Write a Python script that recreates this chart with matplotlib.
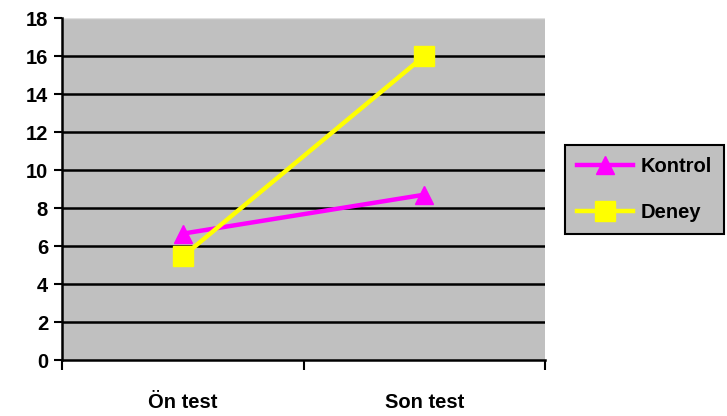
import matplotlib
matplotlib.use("Agg")
import matplotlib.pyplot as plt

categories = ["Ön test", "Son test"]
kontrol = [6.65, 8.7]
deney = [5.45, 16.0]
yticks = [0, 2, 4, 6, 8, 10, 12, 14, 16, 18]

plt.rcParams['font.family'] = ['Liberation Sans', 'DejaVu Sans']
plt.rcParams['font.weight'] = 'bold'

W, H = 727, 416
fig = plt.figure(figsize=(W/100, H/100), dpi=100)
ax = fig.add_axes([62/W, 1-360/H, (545-62)/W, (360-18)/H])
ax.set_facecolor('#C0C0C0')

x = list(range(len(categories)))
ax.plot(x, kontrol, color='#FF00FF', lw=3.2, marker='^', ms=13, label='Kontrol', zorder=3)
ax.plot(x, deney, color='#FFFF00', lw=3.2, marker='s', ms=14, label='Deney', zorder=4)

ax.set_xlim(-0.5, 1.5)
ax.set_ylim(0, 18)
ax.set_yticks(yticks)
ax.set_yticklabels([str(v) for v in yticks], fontsize=14.5, fontweight='bold')
for v in yticks[1:-1]:
    ax.axhline(v, color='black', lw=1.8, zorder=1)
ax.axhline(18, color='#E0E0E0', lw=1, zorder=1)

ax.set_xticks([-0.5, 0.5, 1.5])
ax.set_xticklabels([])
ax.set_xticks(x, minor=True)
ax.set_xticklabels(categories, minor=True, fontsize=14.5, fontweight='bold')
ax.tick_params(axis='x', which='minor', length=0, pad=24)
ax.tick_params(axis='x', which='major', length=7, width=1.5, direction='out')
ax.tick_params(axis='y', length=6, width=1.5, direction='out', pad=4)

for s in ['top', 'right']:
    ax.spines[s].set_visible(False)
for s in ['left', 'bottom']:
    ax.spines[s].set_linewidth(1.8)
    ax.spines[s].set_color('black')

leg = fig.legend(loc='upper left', bbox_to_anchor=(565/W, 1-145/H),
                 prop={'weight': 'bold', 'size': 14.5}, frameon=True, fancybox=False,
                 facecolor='#C0C0C0', edgecolor='black', framealpha=1,
                 handlelength=2.8, borderpad=0.6, labelspacing=1.35, handletextpad=0.35,
                 borderaxespad=0, markerscale=1.0)
leg.get_frame().set_linewidth(1.5)

fig.savefig('out.png', dpi=100)
